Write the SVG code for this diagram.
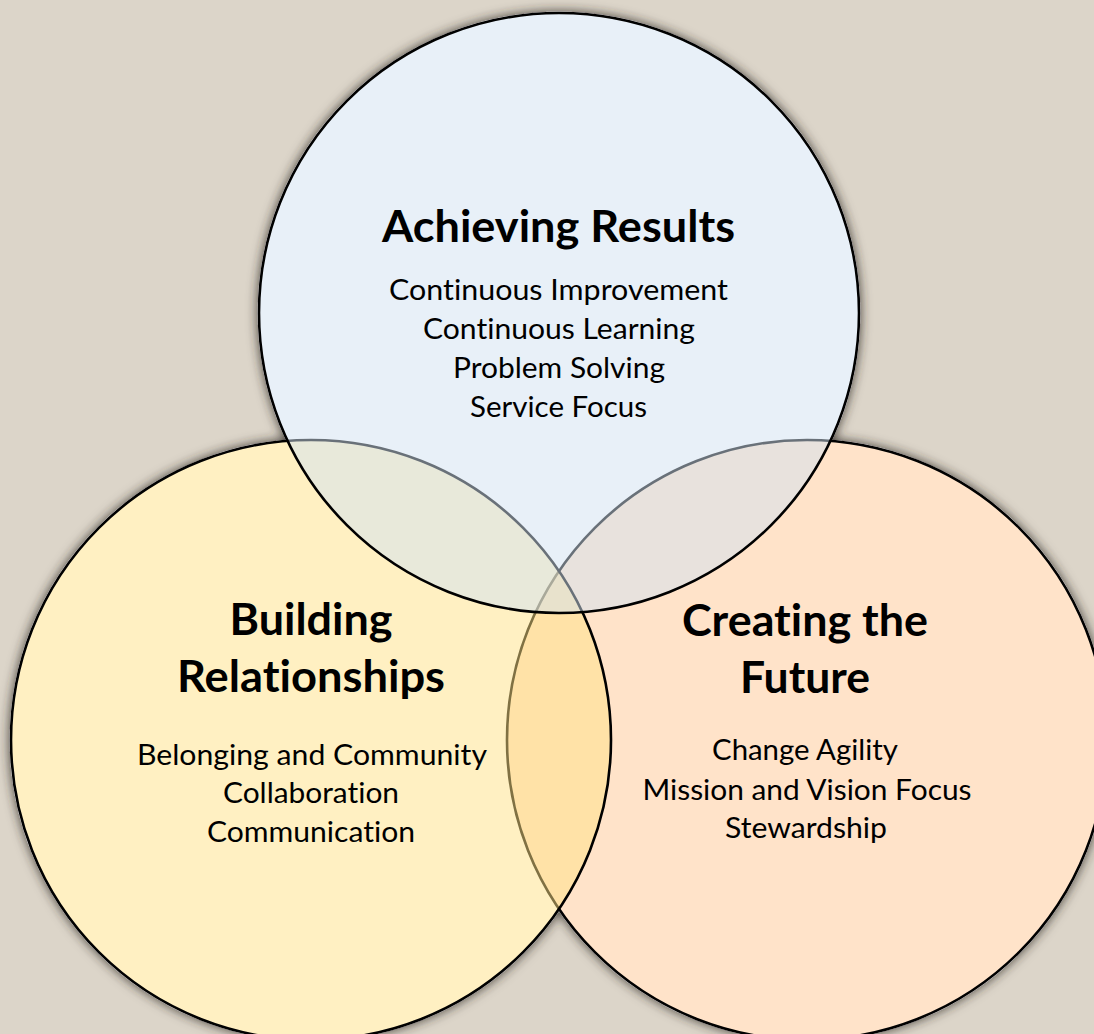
<svg xmlns="http://www.w3.org/2000/svg" width="1094" height="1034" viewBox="0 0 1094 1034">
  <defs>
    <style>
      .base { fill: #ffffff; }
      .ring { stroke: #000000; stroke-width: 2.6; fill-opacity: 0.5; }
      .title { font-family: "Lato", "Open Sans", "Liberation Sans", sans-serif; font-weight: 700; font-size: 43px; fill: #000000; text-anchor: middle; font-variant-ligatures: none; font-feature-settings: "liga" 0, "clig" 0; }
      .item { font-family: "Lato", "Open Sans", "Liberation Sans", sans-serif; font-weight: 400; font-size: 28px; fill: #000000; text-anchor: middle; font-variant-ligatures: none; font-feature-settings: "liga" 0, "clig" 0; }
    </style>
    <!-- soft shadow hugging the outer edge of the circles -->
    <filter id="edgeShadow" x="-20%" y="-20%" width="140%" height="140%">
      <feGaussianBlur in="SourceAlpha" stdDeviation="6" result="blur"/>
      <feFlood flood-color="#2e2923" flood-opacity="0.9"/>
      <feComposite in2="blur" operator="in" result="shadow"/>
      <feMerge>
        <feMergeNode in="shadow"/>
        <feMergeNode in="SourceGraphic"/>
      </feMerge>
    </filter>
  </defs>

  <rect x="0" y="0" width="1094" height="1034" fill="#dcd5c9"/>

  <!-- white underlay beneath the translucent circle fills -->
  <g id="underlay" class="base" filter="url(#edgeShadow)">
    <circle cx="807" cy="740" r="301.3"/>
    <circle cx="311" cy="740" r="301.3"/>
    <circle cx="559" cy="313" r="301.3"/>
  </g>

  <g id="node-future">
    <circle class="ring" cx="807" cy="740" r="300" fill="#ffc793"/>
    <text class="title" x="805" y="636" textLength="246" lengthAdjust="spacingAndGlyphs">Creating the</text>
    <text class="title" x="805" y="693" textLength="130" lengthAdjust="spacingAndGlyphs">Future</text>
    <text class="item" x="805" y="760" textLength="186" lengthAdjust="spacingAndGlyphs">Change Agility</text>
    <text class="item" x="807" y="800" textLength="329" lengthAdjust="spacingAndGlyphs">Mission and Vision Focus</text>
    <text class="item" x="806" y="838" textLength="162" lengthAdjust="spacingAndGlyphs">Stewardship</text>
  </g>

  <g id="node-relationships">
    <circle class="ring" cx="311" cy="740" r="300" fill="#ffe185"/>
    <text class="title" x="311" y="635" textLength="163" lengthAdjust="spacingAndGlyphs">Building</text>
    <text class="title" x="311" y="692" textLength="268" lengthAdjust="spacingAndGlyphs">Relationships</text>
    <text class="item" x="312" y="765" textLength="350" lengthAdjust="spacingAndGlyphs">Belonging and Community</text>
    <text class="item" x="311" y="803" textLength="176" lengthAdjust="spacingAndGlyphs">Collaboration</text>
    <text class="item" x="311" y="842" textLength="208" lengthAdjust="spacingAndGlyphs">Communication</text>
  </g>

  <g id="node-results">
    <circle class="ring" cx="559" cy="313" r="300" fill="#d1e1f1"/>
    <text class="title" x="558.5" y="242" textLength="353" lengthAdjust="spacingAndGlyphs">Achieving Results</text>
    <text class="item" x="558.5" y="300" textLength="339" lengthAdjust="spacingAndGlyphs">Continuous Improvement</text>
    <text class="item" x="559" y="339" textLength="272" lengthAdjust="spacingAndGlyphs">Continuous Learning</text>
    <text class="item" x="559" y="378" textLength="212" lengthAdjust="spacingAndGlyphs">Problem Solving</text>
    <text class="item" x="558.5" y="417" textLength="177" lengthAdjust="spacingAndGlyphs">Service Focus</text>
  </g>
</svg>
